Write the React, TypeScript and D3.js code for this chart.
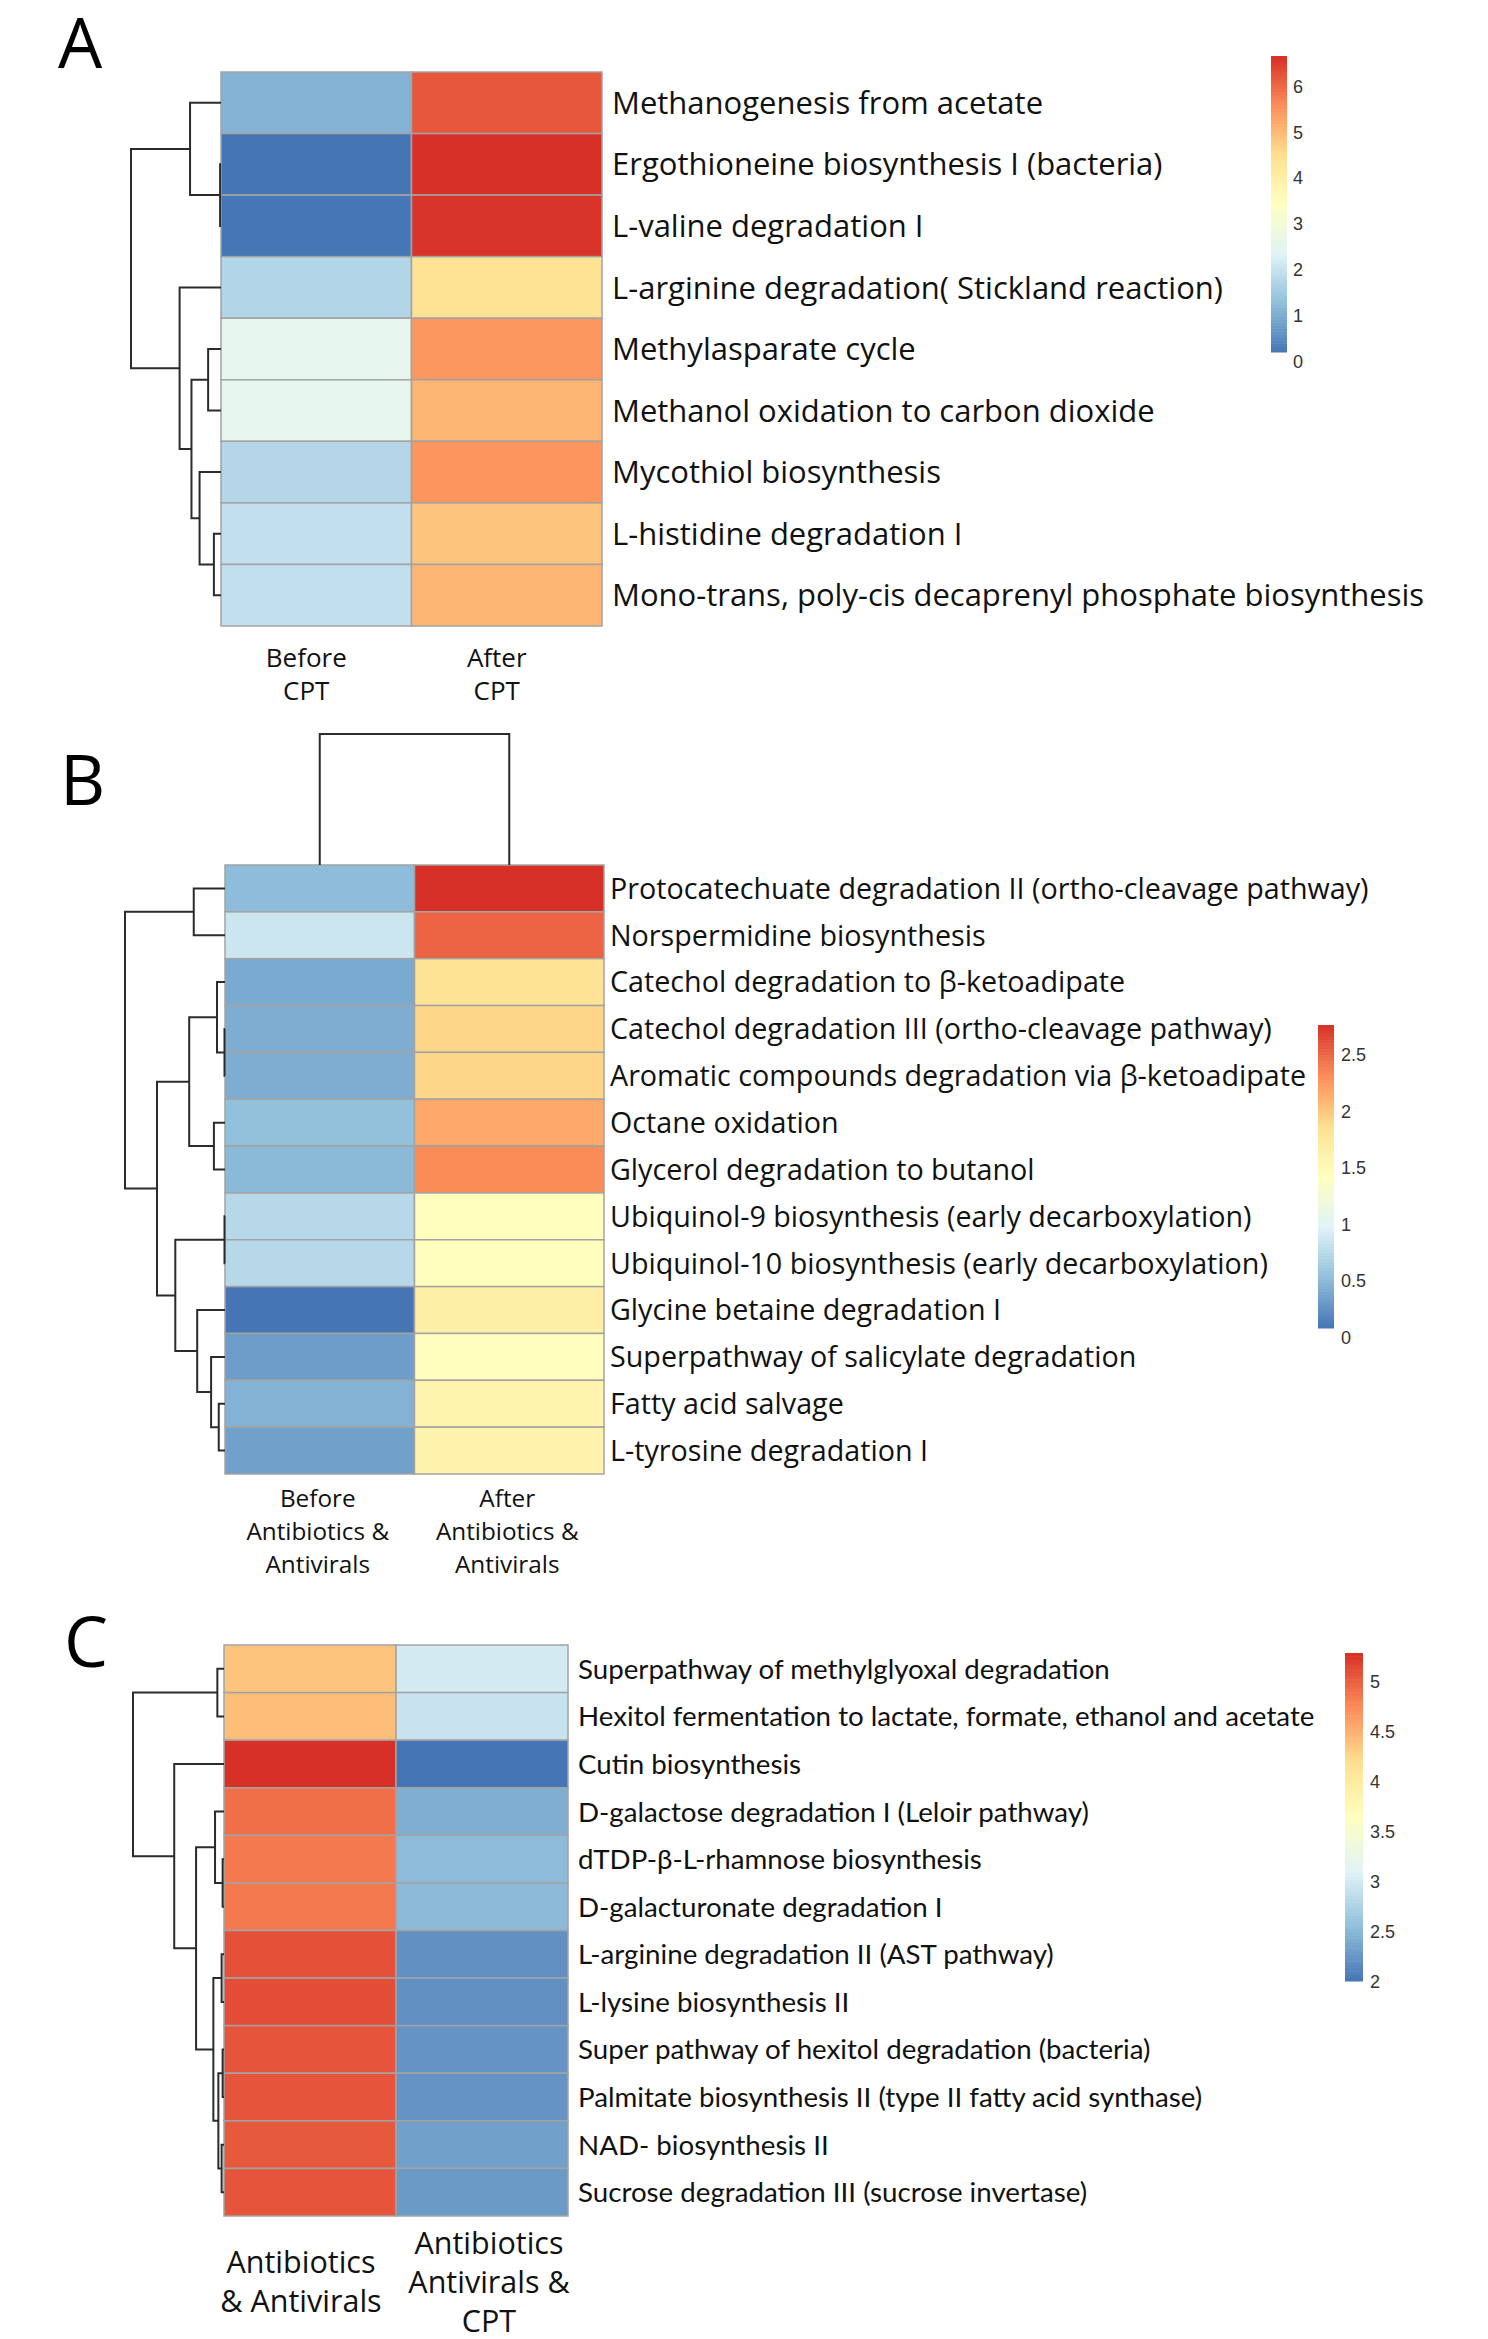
import React from "react";
import * as d3 from "d3";

// ---------- shared palette (pheatmap default: rev RdYlBu 7) ----------
const PALETTE = ["#4575B4", "#91BFDB", "#E0F3F8", "#FFFFBF", "#FEE090", "#FC8D59", "#D73027"];

// ---------- Panel A ----------
const A_ROWS = [
  "Methanogenesis from acetate",
  "Ergothioneine biosynthesis I (bacteria)",
  "L-valine degradation I",
  "L-arginine degradation( Stickland reaction)",
  "Methylasparate cycle",
  "Methanol oxidation to carbon dioxide",
  "Mycothiol biosynthesis",
  "L-histidine degradation I",
  "Mono-trans, poly-cis decaprenyl phosphate biosynthesis",
];
const A_COLS = [["Before", "CPT"], ["After", "CPT"]];
const A_COL1 = [0.89, 0.0, 0.02, 1.54, 2.35, 2.35, 1.56, 1.74, 1.74];
const A_COL2 = [6.0, 6.45, 6.4, 4.2, 5.25, 4.86, 5.27, 4.66, 4.86];
const A_RANGE = [0, 6.45];
const A_TICKS = [0, 1, 2, 3, 4, 5, 6];
const A_ROW_MERGE: [number, number, number][] = [
  [-2, -3, 0.1], [-1, 1, 3.44], [-5, -6, 1.43], [-8, -9, 0.79],
  [-7, 4, 2.38], [3, 5, 3.28], [-4, 6, 4.6], [2, 7, 10],
];

// ---------- Panel B ----------
const B_ROWS = [
  "Protocatechuate degradation II (ortho-cleavage pathway)",
  "Norspermidine biosynthesis",
  "Catechol degradation to β-ketoadipate",
  "Catechol degradation III (ortho-cleavage pathway)",
  "Aromatic compounds degradation via β-ketoadipate",
  "Octane oxidation",
  "Glycerol degradation to butanol",
  "Ubiquinol-9 biosynthesis (early decarboxylation)",
  "Ubiquinol-10 biosynthesis (early decarboxylation)",
  "Glycine betaine degradation I",
  "Superpathway of salicylate degradation",
  "Fatty acid salvage",
  "L-tyrosine degradation I",
];
const B_COLS = [["Before", "Antibiotics &", "Antivirals"], ["After", "Antibiotics &", "Antivirals"]];
const B_COL1 = [0.43, 0.78, 0.32, 0.34, 0.34, 0.46, 0.41, 0.66, 0.66, 0.0, 0.24, 0.37, 0.26];
const B_COL2 = [2.68, 2.43, 1.74, 1.84, 1.84, 2.09, 2.24, 1.36, 1.36, 1.57, 1.36, 1.5, 1.51];
const B_RANGE = [0, 2.68];
const B_TICKS = [0, 0.5, 1, 1.5, 2, 2.5];
const B_ROW_MERGE: [number, number, number][] = [
  [-1, -2, 3.125], [-4, -5, 0.05], [-3, 2, 0.8], [-6, -7, 1.11],
  [3, 4, 3.58], [-8, -9, 0.05], [-12, -13, 0.625], [-11, 7, 1.39],
  [-10, 8, 2.78], [6, 9, 4.97], [5, 10, 6.8], [1, 11, 10],
];
const B_COL_MERGE: [number, number, number][] = [[-1, -2, 10]];

// ---------- Panel C ----------
const C_ROWS = [
  "Superpathway of methylglyoxal degradation",
  "Hexitol fermentation to lactate, formate, ethanol and acetate",
  "Cutin biosynthesis",
  "D-galactose degradation I (Leloir pathway)",
  "dTDP-β-L-rhamnose biosynthesis",
  "D-galacturonate degradation I",
  "L-arginine degradation II (AST pathway)",
  "L-lysine biosynthesis II",
  "Super pathway of hexitol degradation (bacteria)",
  "Palmitate biosynthesis II (type II fatty acid synthase)",
  "NAD- biosynthesis II",
  "Sucrose degradation III (sucrose invertase)",
];
const C_COLS = [["Antibiotics", "& Antivirals"], ["Antibiotics", "Antivirals &", "CPT"]];
const C_COL1 = [4.28, 4.32, 5.19, 4.82, 4.76, 4.76, 5.0, 5.02, 4.97, 4.97, 4.95, 4.97];
const C_COL2 = [2.91, 2.84, 1.91, 2.33, 2.43, 2.42, 2.11, 2.11, 2.13, 2.13, 2.23, 2.18];
const C_RANGE = [1.91, 5.19];
const C_TICKS = [2, 2.5, 3, 3.5, 4, 4.5, 5];
const C_ROW_MERGE: [number, number, number][] = [
  [-1, -2, 0.73], [-5, -6, 0.15], [-4, 2, 0.985], [-7, -8, 0.26],
  [-9, -10, 0.15], [-11, -12, 0.26], [5, 6, 0.62], [4, 7, 1.17],
  [3, 8, 3.07], [-3, 9, 5.47], [1, 10, 10],
];

type Merge = [number, number, number];

function buildTree(merge: Merge[], leafPos: (i: number) => number) {
  const nodes: { pos: number; h: number }[] = [];
  const segs: { a: { pos: number; h: number }; b: { pos: number; h: number }; h: number }[] = [];
  const get = (id: number) => (id < 0 ? { pos: leafPos(-id - 1), h: 0 } : nodes[id - 1]);
  merge.forEach(([a, b, h]) => {
    const na = get(a);
    const nb = get(b);
    nodes.push({ pos: (na.pos + nb.pos) / 2, h });
    segs.push({ a: na, b: nb, h });
  });
  return segs;
}

interface PanelCfg {
  letter: string;
  letterX: number;
  letterY: number;
  rows: string[];
  cols: string[][];
  col1: number[];
  col2: number[];
  range: number[];
  ticks: number[];
  rowMerge: Merge[];
  colMerge?: Merge[];
  colDendroTop?: number;
  heat: { x0: number; x1: number; y0: number; y1: number };
  dendroLeft: number;
  labelX: number;
  labelSize: number;
  labelFont: string;
  colLabelCenterY: number;
  colLabelGap: number;
  colLabelSize: number;
  colLabelDx: number[];
  legend: { x: number; w: number; yTop: number; yBottom: number; labelX: number };
}

function Panel({ cfg }: { cfg: PanelCfg }) {
  const { heat } = cfg;
  const rowScale = d3.scaleBand<number>().domain(d3.range(cfg.rows.length)).range([heat.y0, heat.y1]).padding(0);
  const colScale = d3.scaleBand<number>().domain([0, 1]).range([heat.x0, heat.x1]).padding(0);
  const [lo, hi] = cfg.range;
  const stops = PALETTE.map((_, i) => lo + ((hi - lo) * i) / (PALETTE.length - 1));
  const color = d3.scaleLinear<string>().domain(stops).range(PALETTE).interpolate(d3.interpolateRgb).clamp(true);

  const values = [cfg.col1, cfg.col2];

  // row dendrogram
  const maxH = d3.max(cfg.rowMerge, (m) => m[2]) as number;
  const hx = d3.scaleLinear().domain([0, maxH]).range([heat.x0, cfg.dendroLeft]);
  const rowSegs = buildTree(cfg.rowMerge, (i) => (rowScale(i) as number) + rowScale.bandwidth() / 2);

  // col dendrogram
  let colPaths: string[] = [];
  if (cfg.colMerge && cfg.colDendroTop !== undefined) {
    const maxC = d3.max(cfg.colMerge, (m) => m[2]) as number;
    const hy = d3.scaleLinear().domain([0, maxC]).range([heat.y0, cfg.colDendroTop]);
    const segs = buildTree(cfg.colMerge, (i) => (colScale(i) as number) + colScale.bandwidth() / 2);
    colPaths = segs.map(
      (s) => `M${s.a.pos},${hy(s.a.h)}V${hy(s.h)}H${s.b.pos}V${hy(s.b.h)}`
    );
  }

  // legend
  const lg = cfg.legend;
  const ly = d3.scaleLinear().domain([lo, hi]).range([lg.yBottom, lg.yTop]);
  const nSteps = 100;
  const steps = d3.range(nSteps).map((i) => [lo + ((hi - lo) * i) / nSteps, lo + ((hi - lo) * (i + 1)) / nSteps]);

  return (
    <g>
      <text x={cfg.letterX} y={cfg.letterY} fontFamily="'Open Sans'" fontSize={70} fill="#000">
        {cfg.letter}
      </text>
      {/* cells */}
      {values.map((col, ci) =>
        col.map((v, ri) => (
          <rect
            key={`c${ci}-${ri}`}
            x={colScale(ci)}
            y={rowScale(ri)}
            width={colScale.bandwidth()}
            height={rowScale.bandwidth()}
            fill={color(v)}
            stroke="#A3A3A3"
            strokeWidth={1.5}
          />
        ))
      )}
      {/* row dendrogram */}
      {rowSegs.map((s, i) => (
        <path
          key={`rd${i}`}
          d={`M${hx(s.a.h)},${s.a.pos}H${hx(s.h)}V${s.b.pos}H${hx(s.b.h)}`}
          fill="none"
          stroke="#2b2b2b"
          strokeWidth={2}
        />
      ))}
      {colPaths.map((d, i) => (
        <path key={`cd${i}`} d={d} fill="none" stroke="#2b2b2b" strokeWidth={2} />
      ))}
      {/* row labels */}
      {cfg.rows.map((r, i) => (
        <text
          key={`rl${i}`}
          x={cfg.labelX}
          y={(rowScale(i) as number) + rowScale.bandwidth() / 2}
          dy="0.36em"
          fontFamily={cfg.labelFont}
          fontSize={cfg.labelSize}
          fill="#111"
        >
          {r}
        </text>
      ))}
      {/* column labels */}
      {cfg.cols.map((lines, ci) => {
        const cx = (colScale(ci) as number) + colScale.bandwidth() / 2 + cfg.colLabelDx[ci];
        const startY = cfg.colLabelCenterY - ((lines.length - 1) * cfg.colLabelGap) / 2;
        return lines.map((ln, li) => (
          <text
            key={`cl${ci}-${li}`}
            x={cx}
            y={startY + li * cfg.colLabelGap}
            dy="0.36em"
            textAnchor="middle"
            fontFamily="'Open Sans'"
            fontSize={cfg.colLabelSize}
            fill="#111"
          >
            {ln}
          </text>
        ));
      })}
      {/* legend */}
      {steps.map(([a, b], i) => (
        <rect
          key={`lg${i}`}
          x={lg.x}
          y={ly(b)}
          width={lg.w}
          height={ly(a) - ly(b) + 0.5}
          fill={color((a + b) / 2)}
        />
      ))}
      {cfg.ticks.map((t) => (
        <text
          key={`lt${t}`}
          x={lg.labelX}
          y={ly(t) + 16}
          fontFamily="'Liberation Sans', Arial, sans-serif"
          fontSize={18}
          fill="#333"
        >
          {String(t)}
        </text>
      ))}
    </g>
  );
}

const PANELS: PanelCfg[] = [
  {
    letter: "A",
    letterX: 58,
    letterY: 68,
    rows: A_ROWS,
    cols: A_COLS,
    col1: A_COL1,
    col2: A_COL2,
    range: A_RANGE,
    ticks: A_TICKS,
    rowMerge: A_ROW_MERGE,
    heat: { x0: 221, x1: 602, y0: 72, y1: 626 },
    dendroLeft: 131,
    labelX: 612,
    labelSize: 31,
    labelFont: "'Open Sans'",
    colLabelCenterY: 674,
    colLabelGap: 32.5,
    colLabelSize: 26,
    colLabelDx: [-10, -10],
    legend: { x: 1271, w: 16, yTop: 56, yBottom: 352, labelX: 1293 },
  },
  {
    letter: "B",
    letterX: 60,
    letterY: 805,
    rows: B_ROWS,
    cols: B_COLS,
    col1: B_COL1,
    col2: B_COL2,
    range: B_RANGE,
    ticks: B_TICKS,
    rowMerge: B_ROW_MERGE,
    colMerge: B_COL_MERGE,
    colDendroTop: 734,
    heat: { x0: 225, x1: 604, y0: 865, y1: 1474 },
    dendroLeft: 125,
    labelX: 610,
    labelSize: 28.7,
    labelFont: "'Open Sans'",
    colLabelCenterY: 1531,
    colLabelGap: 33,
    colLabelSize: 24.3,
    colLabelDx: [-2, -2],
    legend: { x: 1318, w: 16, yTop: 1025, yBottom: 1328, labelX: 1341 },
  },
  {
    letter: "C",
    letterX: 64,
    letterY: 1667,
    rows: C_ROWS,
    cols: C_COLS,
    col1: C_COL1,
    col2: C_COL2,
    range: C_RANGE,
    ticks: C_TICKS,
    rowMerge: C_ROW_MERGE,
    heat: { x0: 224, x1: 568, y0: 1645, y1: 2216 },
    dendroLeft: 133,
    labelX: 578,
    labelSize: 27.7,
    labelFont: "Lato",
    colLabelCenterY: 2282,
    colLabelGap: 39,
    colLabelSize: 30.5,
    colLabelDx: [-9, 7],
    legend: { x: 1345, w: 18, yTop: 1653, yBottom: 1981, labelX: 1370 },
  },
];

export default function App() {
  return (
    <svg
      width={1488}
      height={2339}
      viewBox="0 0 1488 2339"
      style={{ position: "absolute", left: 0, top: 0, background: "#fff" }}
    >
      <rect x={0} y={0} width={1488} height={2339} fill="#fff" />
      {PANELS.map((p) => (
        <Panel key={p.letter} cfg={p} />
      ))}
    </svg>
  );
}
